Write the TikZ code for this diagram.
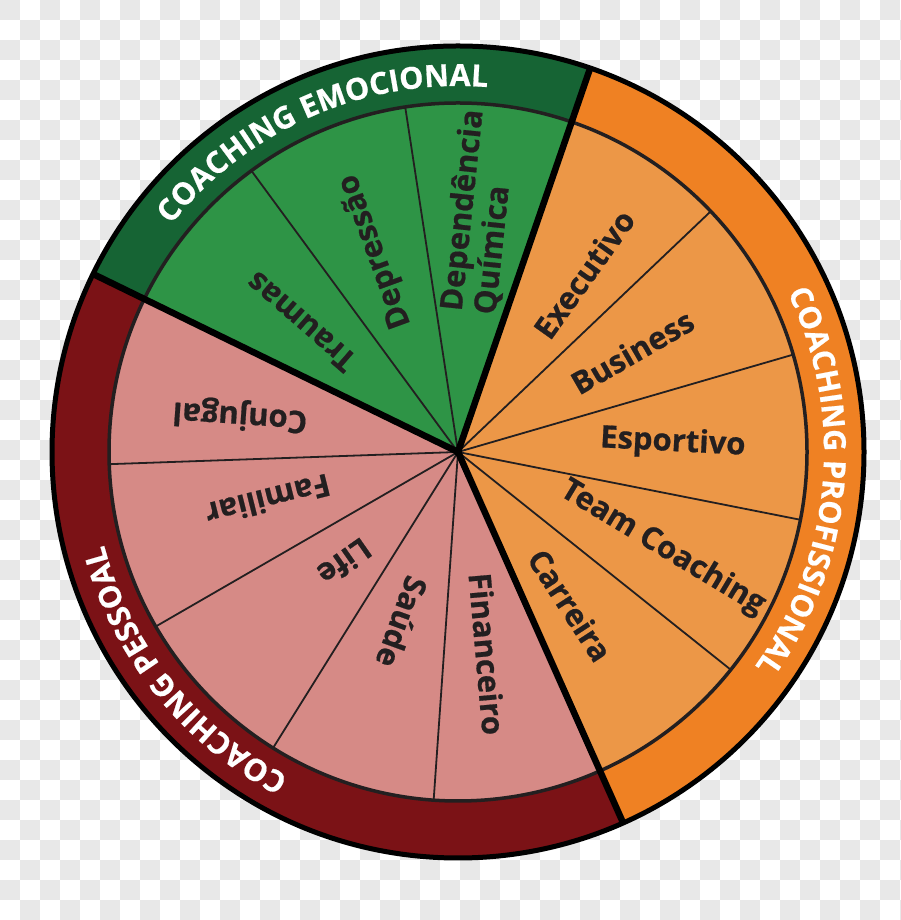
\documentclass[tikz,border=0pt]{standalone}
\usepackage{fontspec}
\setmainfont{Open Sans}[BoldFeatures={FakeBold=0.6}]
\usetikzlibrary{decorations.text}
\definecolor{gband}{HTML}{166434}
\definecolor{gsec}{HTML}{2E9446}
\definecolor{oband}{HTML}{EF8123}
\definecolor{osec}{HTML}{EC9747}
\definecolor{rband}{HTML}{7B1216}
\definecolor{psec}{HTML}{D68A86}
\definecolor{ink}{HTML}{231F20}
\definecolor{chk}{HTML}{E8E8E8}
\newcommand\bandfont{\fontsize{30.5}{30.5}\selectfont\bfseries\color{white}}
\begin{document}
\begin{tikzpicture}[x=1pt,y=1pt,
  lab/.style={font=\fontsize{31}{34}\selectfont\bfseries, text=ink, inner sep=0pt},
  subline/.style={draw=ink, line width=1.8pt},
  mainline/.style={draw=black, line width=6.5pt},
  bandtext/.style={decorate, decoration={text along path, text align=center, text={|\bandfont|#1}}}
]
\useasboundingbox (0,0) rectangle (900,920);
\fill[white] (0,0) rectangle (900,920);
\foreach \i in {0,2,...,44}{
  \foreach \j in {0,2,...,46}{
    \fill[chk] (\i*20,920-\j*20) rectangle ++(20,-20);
    \fill[chk] (\i*20+20,900-\j*20) rectangle ++(20,-20);
  }
}
\begin{scope}[shift={(458,468)}]
  \coordinate (O) at (0,0);
  % outer bands
  \fill[gband] (O) -- (71:406) arc[start angle=71,end angle=154,radius=406] -- cycle;
  \fill[rband] (O) -- (154:406) arc[start angle=154,end angle=294,radius=406] -- cycle;
  \fill[oband] (O) -- (-66:406) arc[start angle=-66,end angle=71,radius=406] -- cycle;
  % inner sectors
  \fill[gsec] (O) -- (71:349) arc[start angle=71,end angle=154,radius=349] -- cycle;
  \fill[psec] (O) -- (154:349) arc[start angle=154,end angle=294,radius=349] -- cycle;
  \fill[osec] (O) -- (-66:349) arc[start angle=-66,end angle=71,radius=349] -- cycle;
  % sub-sector lines
  \foreach \a in {98.7,126.3,182,210,238,266,43.6,16.2,-11.2,-38.6}
    \draw[subline] (O) -- (\a:349);
  % inner circle
  \draw[draw=ink, line width=3.5pt] (O) circle[radius=349];
  % main boundaries
  \foreach \a in {71,154,294}
    \draw[mainline] (O) -- (\a:406);
  \fill[black] (O) circle[radius=4];
  % outer circle
  \draw[black, line width=5pt] (O) circle[radius=406];

  % band texts
  \path[bandtext={COACHING EMOCIONAL}] (153.5:366) arc[start angle=153.5,end angle=73.5,radius=366];
  \path[bandtext={COACHING PROFISSIONAL}] (40:366) arc[start angle=40,end angle=-50,radius=366];
  \path[bandtext={COACHING PESSOAL}] (258.6:366) arc[start angle=258.6,end angle=178.6,radius=366];

  % labels
  \node[lab, rotate=139] (traumas) at (140.4:204) {Traumas};
  \node[lab, rotate=110] (depressao) at (112.4:217) {Depressão};
  \node[lab, rotate=84, align=left] (depq) at (84.8:241) {Dependência\\Química};
  \node[lab, rotate=54.5] (executivo) at (54.7:218) {Executivo};
  \node[lab, rotate=30] (business) at (29.9:201) {Business};
  \node[lab, rotate=-3] (esportivo) at (2.4:215) {Esportivo};
  \node[lab, rotate=-31] (team) at (-25.1:226) {Team Coaching};
  \node[lab, rotate=-57] (carreira) at (-53.8:190) {Carreira};
  \node[lab, rotate=275] (financeiro) at (278.2:204) {Financeiro};
  \node[lab, rotate=250] (saude) at (251.8:179) {Saúde};
  \node[lab, rotate=215] (life) at (224.2:158) {Life};
  \node[lab, rotate=194] (familiar) at (194.2:196) {Familiar};
  \node[lab, rotate=176] (conjugal) at (170.4:221) {Conjugal};
\end{scope}
\end{tikzpicture}
\end{document}
